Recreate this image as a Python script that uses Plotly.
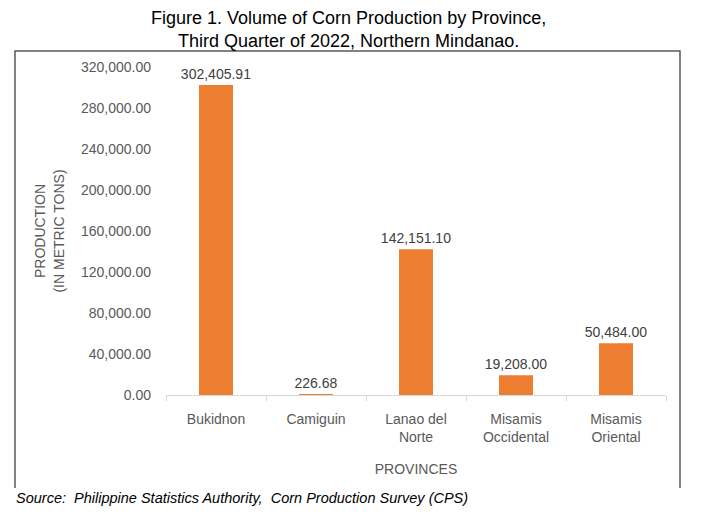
import plotly.graph_objects as go

provinces = ["Bukidnon", "Camiguin", "Lanao del<br>Norte", "Misamis<br>Occidental", "Misamis<br>Oriental"]
production = [302405.91, 226.68, 142151.10, 19208.00, 50484.00]
y_ticks = [0, 40000, 80000, 120000, 160000, 200000, 240000, 280000, 320000]
y_tick_labels = [f"{v:,.2f}" for v in y_ticks]
bar_labels = [f"{v:,.2f}" for v in production]

L, R, T, B = 166, 666, 67, 395
W, H = 711, 515
pw, ph = R - L, B - T

def px(x):
    return (x - L) / pw

def py(y):
    return (B - y) / ph

fig = go.Figure(go.Bar(
    x=provinces, y=production,
    marker=dict(color="#ED7D31", line=dict(width=0)),
    width=0.34,
    text=bar_labels, textposition="outside",
    constraintext="none",
    textfont=dict(family="Liberation Sans, Arial", size=14, color="#404040"),
    cliponaxis=False,
    hoverinfo="skip",
))

fig.update_layout(
    width=W, height=H,
    margin=dict(l=L, r=W - R, t=T, b=H - B, autoexpand=False),
    paper_bgcolor="white", plot_bgcolor="white",
    font=dict(family="Liberation Sans, Arial", size=14, color="#595959"),
    showlegend=False,
    xaxis=dict(
        showline=True, linecolor="#D9D9D9", linewidth=1,
        ticks="outside", tickcolor="#D9D9D9", ticklen=5,
        tickson="boundaries",
        ticklabelstandoff=11,
        tickfont=dict(size=14, color="#595959"),
        title=dict(text="PROVINCES", font=dict(size=14, color="#595959"), standoff=20),
        showgrid=False,
        automargin=False,
    ),
    yaxis=dict(
        range=[0, 320000],
        tickvals=y_ticks, ticktext=y_tick_labels,
        showgrid=False, zeroline=False, showline=False,
        tickfont=dict(size=14, color="#595959"),
        ticklabelstandoff=14,
        title=dict(text="PRODUCTION<br>(IN METRIC TONS)", font=dict(size=14, color="#595959"), standoff=13),
        automargin=False,
    ),
    shapes=[dict(
        type="path", xref="paper", yref="paper",
        path=f"M {px(15)},{py(488)} L {px(15)},{py(51)} L {px(680)},{py(51)} L {px(680)},{py(488)}",
        line=dict(color="#595959", width=1.5), layer="below",
    )],
    annotations=[
        dict(text="Figure 1. Volume of Corn Production by Province,<br>Third Quarter of 2022, Northern Mindanao.",
             xref="paper", yref="paper", x=px(348), y=py(6),
             xanchor="center", yanchor="top", showarrow=False,
             font=dict(size=18, color="black", family="Liberation Sans, Arial")),
        dict(text="<i>Source:  Philippine Statistics Authority,  Corn Production Survey (CPS)</i>",
             xref="paper", yref="paper", x=px(14), y=py(498),
             xanchor="left", yanchor="middle", showarrow=False,
             font=dict(size=14.5, color="black", family="Liberation Sans, Arial")),
    ],
)

fig.write_html("out.html", config={"displayModeBar": False},
               post_script="document.body.style.margin='0';")
